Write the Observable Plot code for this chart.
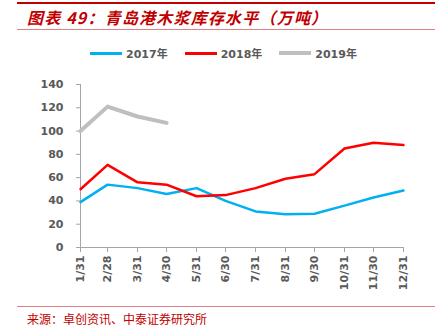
<!DOCTYPE html>
<html><head><meta charset="utf-8">
<script src="https://cdn.jsdelivr.net/npm/d3@7"></script>
<script src="https://cdn.jsdelivr.net/npm/@observablehq/plot@0.6"></script>
<style>
body{margin:0;background:#fff;font-family:"DejaVu Sans","Noto Sans CJK SC",sans-serif;}
#wrap{position:relative;width:447px;height:326px;overflow:hidden;}
.rule{position:absolute;left:17px;width:418px;}
#title{position:absolute;left:27px;top:5px;font-size:16px;font-weight:bold;font-style:italic;color:#C00000;font-family:"Noto Sans CJK SC",sans-serif;white-space:nowrap;letter-spacing:1.2px;}
#legend{position:absolute;top:45px;left:0;width:447px;display:flex;justify-content:center;gap:17px;font-size:11px;font-weight:bold;color:#595959;font-family:"DejaVu Sans","Noto Sans CJK SC",sans-serif;}
#legend span{display:flex;align-items:center;gap:4px;}
#legend i{display:inline-block;width:32px;}
#chart{position:absolute;left:0;top:70px;}
#source{position:absolute;left:27px;top:310px;font-size:12px;color:#C00000;font-family:"Noto Sans CJK SC",sans-serif;}
</style></head>
<body>
<div id="wrap">
  <div class="rule" style="top:2px;height:2px;background:#C00000"></div>
  <div id="title">图表 49：青岛港木浆库存水平（万吨）</div>
  <div class="rule" style="top:29px;height:1px;background:#E08080"></div>
  <div id="legend"></div>
  <div id="chart"></div>
  <div class="rule" style="top:306px;height:1px;background:#E08080"></div>
  <div id="source">来源：卓创资讯、中泰证券研究所</div>
</div>
<script>
const dateLabels = ["1/31","2/28","3/31","4/30","5/31","6/30","7/31","8/31","9/30","10/31","11/30","12/31"];
const seriesNames = ["2017年","2018年","2019年"];
const seriesColors = ["#00B0F0","#FF0000","#BFBFBF"];
const seriesWidths = [2.5,2.5,4];
const values2017 = [39,54,51,46,51,40,31,28.5,29,36,43,49];
const values2018 = [50,71,56,54,44,45,51,59,63,85,90,88];
const values2019 = [100,121,112.5,107];
const yTicks = [0,20,40,60,80,100,120,140];

const dates = dateLabels.map(s => { const [m,d] = s.split("/").map(Number); return new Date(Date.UTC(2017,m-1,d)); });
const allValues = [values2017, values2018, values2019];
const data = [];
allValues.forEach((vals, si) => vals.forEach((v, i) => data.push({series: seriesNames[si], date: dates[i], value: v})));

const leg = document.getElementById("legend");
seriesNames.forEach((n, i) => {
  const s = document.createElement("span");
  s.innerHTML = `<i style="height:${seriesWidths[i]===4?4:3}px;background:${seriesColors[i]}"></i>${n}`;
  leg.appendChild(s);
});

const fmt = d => `${d.getUTCMonth()+1}/${d.getUTCDate()}`;
const plot = Plot.plot({
  width: 447, height: 230,
  marginLeft: 80, marginRight: 44, marginTop: 14, marginBottom: 53,
  style: {fontFamily: "DejaVu Sans, sans-serif", fontSize: "11px", fontWeight: "bold", color: "#595959", background: "transparent"},
  x: {type: "utc", domain: [dates[0], dates[dates.length-1]], ticks: dates, tickFormat: fmt, tickRotate: -90, label: null, tickSize: 5},
  y: {domain: [0, 140], ticks: yTicks, label: null, tickSize: 4},
  marks: [
    Plot.axisY({ticks: yTicks, tickSize: 4, stroke: "#A6A6A6", label: null, tickPadding: 13, fill: "#595959"}),
    Plot.axisX({ticks: dates, tickFormat: fmt, tickRotate: -90, tickSize: 5, stroke: "#A6A6A6", label: null, fill: "#595959", tickPadding: 3}),
    Plot.ruleY([0], {stroke: "#A6A6A6"}),
    Plot.ruleX([dates[0]], {stroke: "#A6A6A6"}),
    ...seriesNames.map((n, i) => Plot.line(data.filter(d => d.series === n), {x: "date", y: "value", stroke: seriesColors[i], strokeWidth: seriesWidths[i], strokeLinejoin: "round"}))
  ]
});
document.getElementById("chart").appendChild(plot);
</script>
</body></html>
